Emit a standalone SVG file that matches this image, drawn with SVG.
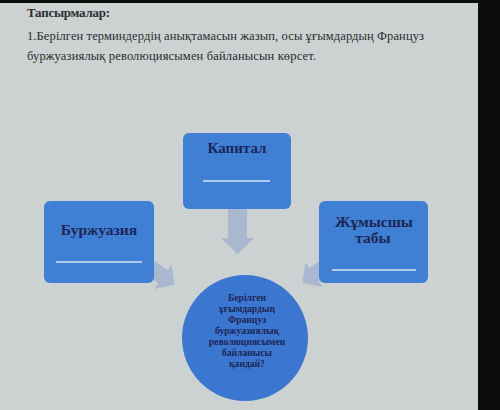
<svg xmlns="http://www.w3.org/2000/svg" width="500" height="410" viewBox="0 0 500 410">
<style>
.bg{fill:#cbd2d1}
.box{fill:#3f7fd4}
.ttl{font-family:"Liberation Serif",serif;font-weight:bold;fill:#1c2656;text-anchor:middle}
.ct{font-family:"Liberation Serif",serif;font-weight:bold;font-size:9.6px;fill:#1c2656;text-anchor:middle}
.ul{stroke:#d6e6f7;stroke-width:1.3}
.hd{font-family:"Liberation Serif",serif;fill:#2b2d30}
.arr{fill:#a9b7cf}
</style>
<defs>
<polygon id="ar" points="0,-8 22,-8 22,-15 36,0 22,15 22,8 0,8"/>
</defs>
<rect x="0" y="0" width="500" height="410" fill="#0d0d10"/>
<rect class="bg" x="0" y="3" width="478" height="407"/>
<g id="header">
<text class="hd" x="27" y="17" font-size="13" font-weight="bold" textLength="83">Тапсырмалар:</text>
<text class="hd" x="27" y="40" font-size="12.5" textLength="397">1.Берілген терминдердің анықтамасын жазып, осы ұғымдардың Француз</text>
<text class="hd" x="27" y="60" font-size="12.5" textLength="289">буржуазиялық революциясымен байланысын  көрсет.</text>
</g>
<g id="connectors">
<polygon class="arr" points="228,205 247,205 247,238 254,238 237.5,254 221,238 228,238"/>
<use href="#ar" class="arr" transform="translate(145,264) rotate(35)"/>
<use href="#ar" class="arr" transform="translate(332,262) rotate(145)"/>
</g>
<g id="kapital">
<rect class="box" x="183" y="133" width="108" height="76" rx="6"/>
<text class="ttl" x="237" y="153" font-size="15">Капитал</text>
<line class="ul" x1="203" y1="181" x2="270" y2="181"/>
</g>
<g id="burzhuaziya">
<rect class="box" x="44" y="201" width="110" height="82" rx="6"/>
<text class="ttl" x="99" y="235" font-size="15.5">Буржуазия</text>
<line class="ul" x1="56" y1="262" x2="142" y2="262"/>
</g>
<g id="zhumysshy">
<rect class="box" x="319" y="201" width="109" height="82" rx="6"/>
<text class="ttl" x="374" y="227" font-size="15.5">Жұмысшы</text>
<text class="ttl" x="373" y="243" font-size="15.5">табы</text>
<line class="ul" x1="332" y1="270" x2="416" y2="270"/>
</g>
<g id="center">
<circle cx="245" cy="338" r="63" fill="#3b76d0"/>
<text class="ct" x="247" y="301">Берілген</text>
<text class="ct" x="247" y="312">ұғымдардың</text>
<text class="ct" x="247" y="323">Француз</text>
<text class="ct" x="247" y="334">буржуазиялық</text>
<text class="ct" x="247" y="345">революциясымен</text>
<text class="ct" x="247" y="356">байланысы</text>
<text class="ct" x="247" y="367">қандай?</text>
</g>
</svg>
